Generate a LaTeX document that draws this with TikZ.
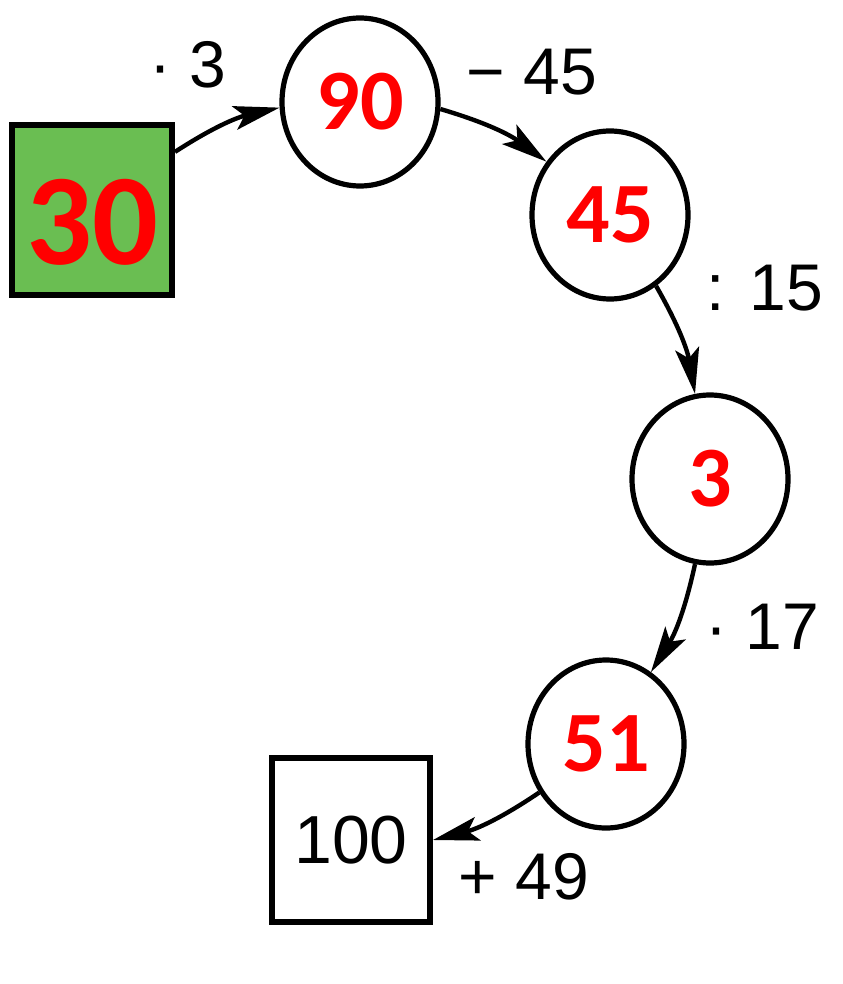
\documentclass[tikz,border=0pt]{standalone}
\usepackage{fontspec}
\setmainfont{Liberation Sans}
\newfontfamily\zahlfont{Carlito}
\usetikzlibrary{shapes.geometric,arrows.meta}
\definecolor{gruen}{RGB}{106,190,82}
\tikzset{
  kreis/.style={ellipse, draw, line width=2.6pt, minimum width=78pt,
    minimum height=84pt, inner sep=0pt, text=red,
    font=\zahlfont\bfseries\fontsize{43}{43}\selectfont},
  kasten/.style={rectangle, draw, line width=3pt, inner sep=0pt},
  pfeil/.style={-{Stealth[length=23pt,width=12pt,inset=5pt]}, line width=2.2pt},
  rechnung/.style={font=\fontsize{33}{33}\selectfont, inner sep=0pt}
}
\begin{document}
\begin{tikzpicture}[x=0.5pt,y=-0.5pt]
  % Rahmen
  \useasboundingbox[fill=white] (0,0) rectangle (842,984);

  % Startwert
  \node[kasten, fill=gruen, minimum width=80pt, minimum height=85pt,
    text=red, font=\zahlfont\bfseries\fontsize{65}{65}\selectfont]
    (s30) at (92,210) {\raisebox{-27.5pt}[0pt][0pt]{30}};

  % Zwischenergebnisse
  \foreach \name/\x/\y/\wert in {c90/360/102/90, c45/610/215/45,
      c3/710/479/3, c51/606/744/51}
    \node[kreis] (\name) at (\x,\y) {\wert};

  % Ergebnis
  \node[kasten, minimum width=79pt, minimum height=82pt,
    font=\fontsize{34}{34}\selectfont] (s100) at (351,840) {100};

  % Pfeile
  \foreach \a/\b in {s30.35/c90.184, c90.-5/c45.140, c45.-57/c3.100,
      c3.-100/c51.58, c51.216/s100.east}
    \draw[pfeil] (\a) to[bend left=10] (\b);

  % Rechenanweisungen
  \foreach \name/\x/\y/\op in {r1/188/65/{· 3}, r2/532/72/{− 45},
      r3/765/288/{: 15}, r4/762/627/{· 17}, r5/524/877/{+ 49}}
    \node[rechnung] (\name) at (\x,\y) {\op};

\end{tikzpicture}
\end{document}
